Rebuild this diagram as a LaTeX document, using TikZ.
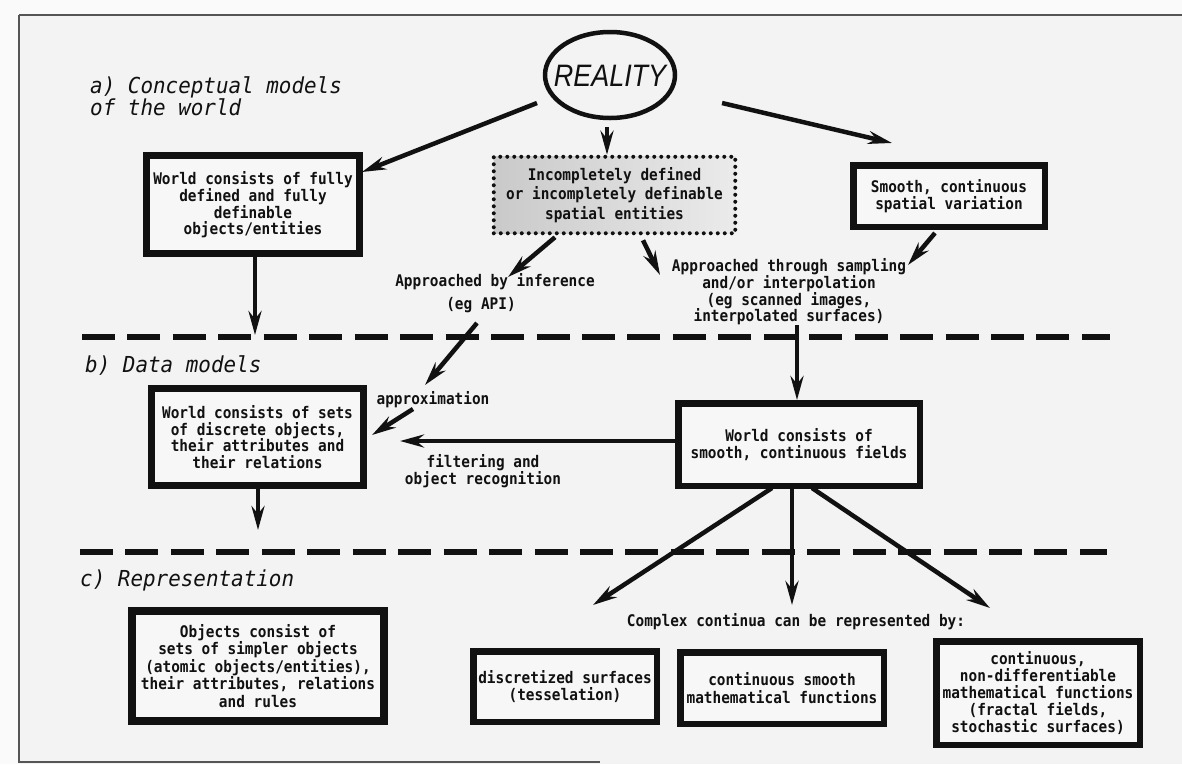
\documentclass[tikz,border=0pt]{standalone}
\usepackage{fontspec}
\usetikzlibrary{arrows.meta,shapes.geometric}
\newfontfamily\plotfont{DejaVu Sans Mono}[FakeStretch=0.9]
\newfontfamily\headfont{DejaVu Sans Mono}[FakeStretch=0.95]
\newfontfamily\realfont{Liberation Sans}[FakeStretch=0.87]
\newcommand\pfnt[1]{\plotfont\bfseries\fontsize{16}{#1}\selectfont}
\definecolor{paperout}{HTML}{FAFAFA}
\definecolor{paperin}{HTML}{F3F3F3}
\definecolor{boxin}{HTML}{F7F7F7}
\definecolor{ink}{HTML}{111111}
\definecolor{framec}{HTML}{555555}
\begin{document}
\begin{tikzpicture}[x=1pt,y=-1pt,
  boxn/.style={draw=ink, rectangle, inner sep=0pt, align=center, text=ink, fill=boxin, line width=6.5pt},
  lbl/.style={inner sep=0pt, text=ink, font=\pfnt{16}},
  head/.style={inner sep=0pt, text=ink, font=\headfont\itshape\fontsize{22}{22}\selectfont},
  arr/.style={draw=ink, line width=4.5pt, -{Stealth[length=24pt,width=13pt,inset=8pt]}},
  sepline/.style={draw=ink, line width=6pt, dash pattern=on 33pt off 12.45pt},
  framel/.style={draw=framec, line width=1.5pt}]
\useasboundingbox (0,0) rectangle (1182,764);
\fill[paperout] (0,0) rectangle (1182,764);
\fill[paperin] (19,15) rectangle (1182,764);
\draw[framel] (19,15) -- (1182,15);
\draw[framel] (19,15) -- (19,762) -- (600,762);

% headings
\node[head, anchor=west, align=left] (ha) at (90,96) {a) Conceptual models\\of the world};
\node[head, anchor=base west] (hb) at (85,372) {b) Data models};
\node[head, anchor=base west] (hc) at (80,586) {c) Representation};

% reality
\node[ellipse, draw=ink, line width=4.5pt, minimum width=130pt, minimum height=86pt, inner sep=0pt, text=ink,
      font=\realfont\itshape\fontsize{31}{31}\selectfont] (reality) at (610,75)
      {\makebox[0pt]{\raisebox{-11pt}[0pt][0pt]{REALITY}}};

% boxes
\node[boxn, line width=7pt, minimum width=213pt, minimum height=98pt, font=\pfnt{16}] (box1) at (253,204.5)
  {World consists of fully\\defined and fully\\definable\\objects/entities};
\node[draw=ink, rectangle, inner sep=0pt, align=center, text=ink, line width=4pt, line cap=round,
      dash pattern=on 0pt off 7pt, left color=black!21, right color=black!8,
      minimum width=241.5pt, minimum height=76.5pt, font=\pfnt{19.5}] (dotted) at (614.5,195)
  {Incompletely defined\\or incompletely definable\\spatial entities};
\node[boxn, minimum width=191.5pt, minimum height=61.5pt, font=\pfnt{17}] (smooth) at (949,196)
  {Smooth, continuous\\spatial variation};
\node[boxn, line width=7pt, minimum width=212pt, minimum height=97pt, font=\pfnt{16.7}] (box2) at (257.5,437)
  {World consists of sets\\of discrete objects,\\their attributes and\\their relations};
\node[boxn, minimum width=241.5pt, minimum height=82.5pt, font=\pfnt{17}] (box3) at (799,444.5)
  {World consists of\\smooth, continuous fields};
\node[boxn, line width=8pt, minimum width=252pt, minimum height=110pt, font=\pfnt{17.5}] (box4) at (258,666)
  {Objects consist of\\sets of simpler objects\\(atomic objects/entities),\\their attributes, relations\\and rules};
\node[boxn, minimum width=183.5pt, minimum height=70.5pt, font=\pfnt{16.5}] (box5) at (565,686.5)
  {discretized surfaces\\(tesselation)};
\node[boxn, minimum width=203.5pt, minimum height=71.5pt, font=\pfnt{18}] (box6) at (782,688)
  {continuous smooth\\mathematical functions};
\node[boxn, minimum width=203.5pt, minimum height=103.5pt, font=\pfnt{17}] (box7) at (1038,693)
  {continuous,\\non-differentiable\\mathematical functions\\(fractal fields,\\stochastic surfaces)};

% labels
\node[lbl] (infer) at (495,282) {Approached by inference};
\node[lbl] (egapi) at (481,305) {(eg API)};
\node[lbl, align=center, font=\pfnt{16.7}] (samp) at (789,292)
  {Approached through sampling\\and/or interpolation\\(eg scanned images,\\interpolated surfaces)};
\node[lbl] (approx) at (433,400) {approximation};
\node[lbl, align=center, font=\pfnt{17}] (filt) at (483,471.5) {filtering and\\object recognition};
\node[lbl] (cplx) at (796,622) {Complex continua can be represented by:};

% separators
\coordinate (d1a) at (82,337);
\coordinate (d1b) at (1110,337);
\coordinate (d2a) at (80,552);
\coordinate (d2b) at (1107,552);
\draw[sepline] (d1a) -- (d1b);
\draw[sepline] (d2a) -- (d2b);

\coordinate (t1) at (255,335);
\coordinate (t2) at (258,530);

% connectors
\draw[arr] ([shift={(-14.6,5.6)}]reality.201) -- ([shift={(-1,-32.5)}]box1.east);
\draw[arr] ([shift={(-3,6.75)}]reality.south) -- ([shift={(-7.5,0)}]dotted.north);
\draw[arr] ([shift={(49,12.3)}]reality.346) -- ([shift={(42,-19)}]smooth.north west);
\draw[arr] ([shift={(-14,3)}]smooth.south) -- ([shift={(119,-27)}]samp.center);
\draw[arr] ([shift={(-59.5,2)}]dotted.south) -- ([shift={(13,-5)}]infer.center);
\draw[arr] ([shift={(28.5,5)}]dotted.south) -- ([shift={(-129,-17)}]samp.center);
\draw[arr] ([shift={(2,0)}]box1.south) -- (t1);
\draw[arr] ([shift={(-4,18)}]egapi.center) -- ([shift={(-8,-15)}]approx.center);
\draw[arr] ([shift={(-20,9)}]approx.center) -- ([shift={(5,-2)}]box2.east);
\draw[arr] ([shift={(0,-3.5)}]box3.west) -- ([shift={(33,4)}]box2.east);
\draw[arr] ([shift={(8,33)}]samp.center) -- ([shift={(-2,0)}]box3.north);
\draw[arr] ([shift={(0.5,0)}]box2.south) -- (t2);
\draw[arr] ([shift={(-27,-1)}]box3.south) -- ([shift={(28,-43)}]box5.north);
\draw[arr] ([shift={(-7,-1)}]box3.south) -- ([shift={(10,-44)}]box6.north);
\draw[arr] ([shift={(13,-1)}]box3.south) -- ([shift={(-48,-30)}]box7.north);
\end{tikzpicture}
\end{document}
